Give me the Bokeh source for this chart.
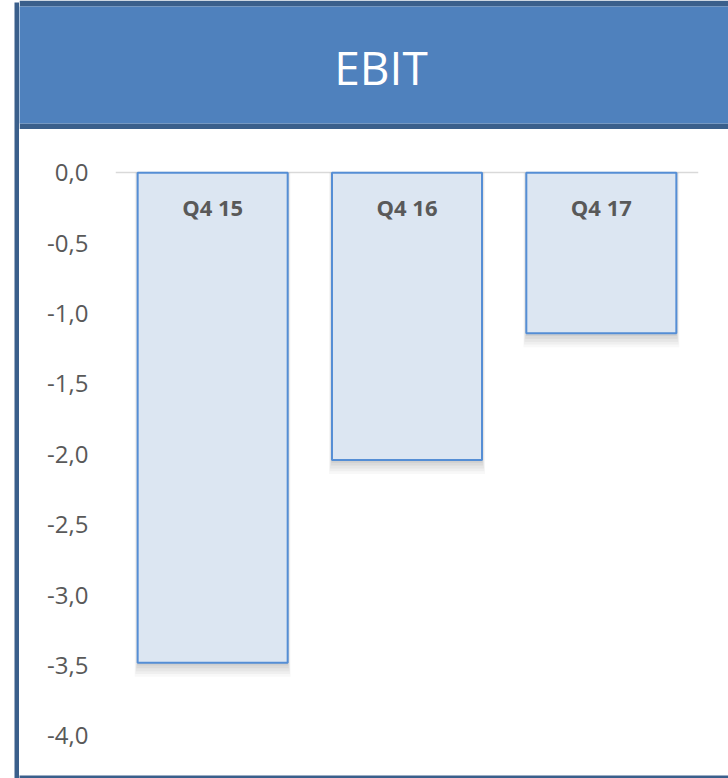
from bokeh.plotting import figure
from bokeh.layouts import row, column
from bokeh.models import FactorRange, Range1d, FixedTicker, Label, ColumnDataSource
from bokeh.core.properties import value
from bokeh.embed import file_html
from bokeh.resources import INLINE
import numpy as np

# ---- data ----
categories = ["Q4 15", "Q4 16", "Q4 17"]
ebit_values = [-3.48, -2.04, -1.14]
title_text = "EBIT"
y_ticks = [0.0, -0.5, -1.0, -1.5, -2.0, -2.5, -3.0, -3.5, -4.0]
y_tick_labels = ["0,0", "-0,5", "-1,0", "-1,5", "-2,0", "-2,5", "-3,0", "-3,5", "-4,0"]

FONT = "Open Sans"
GRAY = "#595959"
DARK = "#3A5F8B"
BLUE = "#4F81BD"

TOTAL_W, TOTAL_H = 728, 778
STRIP_W = 19
RIGHT_W = TOTAL_W - STRIP_W
HEAD_H = 129
BOTTOM_H = 20
MAIN_H = TOTAL_H - HEAD_H - BOTTOM_H


def deco(width, height, color, **kw):
    f = figure(width=width, height=height, x_axis_type=None, y_axis_type=None,
               title=None, output_backend="svg", toolbar_location=None,
               min_border=0, **kw)
    f.outline_line_color = None
    f.background_fill_color = color
    f.border_fill_color = color
    return f


# left dark border strip
left = deco(STRIP_W, TOTAL_H, DARK, min_border_left=14, min_border_top=2)
left.border_fill_color = "white"

# header band: blue frame, dark top / bottom borders
header = deco(RIGHT_W, HEAD_H, BLUE, min_border_top=6, min_border_bottom=6,
              x_range=Range1d(STRIP_W, TOTAL_W), y_range=Range1d(0, HEAD_H - 12))
header.border_fill_color = DARK
header.add_layout(Label(x=380.5, y=56.5, text=title_text, text_align="center",
                        text_baseline="middle", text_font=FONT,
                        text_font_size="46px", text_color="white"))

# bottom dark line (white gap above it)
bottom = deco(RIGHT_W, BOTTOM_H, DARK, min_border_top=BOTTOM_H - 3)
bottom.border_fill_color = "white"

# main chart
p = figure(
    width=RIGHT_W, height=MAIN_H,
    x_range=FactorRange(*categories),
    y_range=Range1d(-4.16, 0.2),
    output_backend="svg", toolbar_location=None,
    min_border=0, min_border_left=96, min_border_right=30,
    min_border_top=15, min_border_bottom=0,
)
p.outline_line_color = None
p.background_fill_color = "white"
p.border_fill_color = "white"

p.xaxis.visible = False
yax = p.yaxis[0]
yax.ticker = FixedTicker(ticks=y_ticks)
yax.major_label_overrides = {t: l for t, l in zip(y_ticks, y_tick_labels)}
yax.axis_line_color = None
yax.major_tick_line_color = None
yax.minor_tick_line_color = None
yax.major_tick_out = 0
yax.major_label_standoff = 27
yax.major_label_text_font = FONT
yax.major_label_text_font_size = "24px"
yax.major_label_text_color = GRAY

p.xgrid.visible = False
p.ygrid.ticker = FixedTicker(ticks=[0.0])
p.ygrid.grid_line_color = "#D9D9D9"
p.ygrid.grid_line_width = 1.5

vals = np.array(ebit_values)
src = ColumnDataSource(dict(cat=categories, val=vals, zero=np.zeros(len(vals))))

# soft shadow layers below bars
for k, a in [(0.1, 0.05), (0.08, 0.07), (0.06, 0.08), (0.04, 0.1), (0.02, 0.12)]:
    p.vbar(x=categories, top=0, bottom=vals - k, width=0.772 + k * 0.3,
           fill_color="#7F7F7F", fill_alpha=a, line_color=None)

p.vbar(x="cat", top=0, bottom="val", width=0.772, source=src,
       fill_color="#DCE6F2", line_color="#558ED5", line_width=2)

p.text(x="cat", y="zero", text="cat", source=src, y_offset=34,
       text_align="center", text_baseline="middle",
       text_font=value(FONT), text_font_style="bold",
       text_font_size="22px", text_color=GRAY)

layout = row(left, column(row(header), row(p), row(bottom)))

open("out.html", "w").write(file_html(layout, INLINE))
